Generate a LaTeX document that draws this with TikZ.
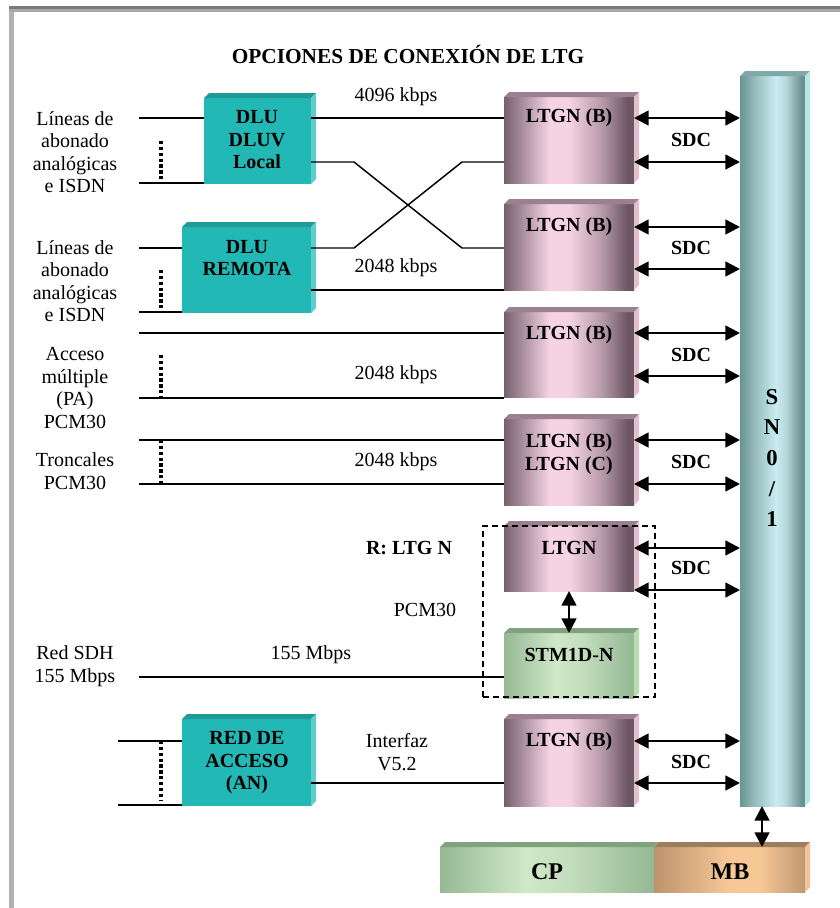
\documentclass[tikz,border=0pt]{standalone}
\usepackage{fontspec}
\setmainfont{Liberation Serif}
\usetikzlibrary{arrows.meta,fit,calc}
\definecolor{tealF}{HTML}{22B8B5}
\definecolor{tealT}{HTML}{1E9B97}
\definecolor{tealS}{HTML}{5FCDCD}
\definecolor{ltgL}{HTML}{76606E}
\definecolor{ltgM}{HTML}{F5D3E3}
\definecolor{ltgR}{HTML}{6C5663}
\definecolor{ltgT}{HTML}{9C8090}
\definecolor{ltgS}{HTML}{E2C0D0}
\definecolor{snL}{HTML}{6C9494}
\definecolor{snM}{HTML}{C8ECF0}
\definecolor{snR}{HTML}{6C9090}
\definecolor{snT}{HTML}{7FA9A9}
\definecolor{snS}{HTML}{B8E6E6}
\definecolor{grL}{HTML}{96B994}
\definecolor{grM}{HTML}{CFE8C8}
\definecolor{grR}{HTML}{94B893}
\definecolor{grT}{HTML}{80A27F}
\definecolor{grS}{HTML}{B8DDB2}
\definecolor{mbL}{HTML}{BD946E}
\definecolor{mbM}{HTML}{F7C796}
\definecolor{mbR}{HTML}{BF9872}
\definecolor{mbT}{HTML}{9E7D5E}
\definecolor{mbS}{HTML}{F2C494}
\definecolor{frT}{HTML}{7A7A7A}
\definecolor{frT2}{HTML}{A8A8A8}
\definecolor{frL}{HTML}{B2B2B2}
\pgfdeclarehorizontalshading{ltgshade}{100bp}{color(0bp)=(ltgL); color(25bp)=(ltgL); color(42.5bp)=(ltgM); color(50bp)=(ltgM); color(62.5bp)=(ltgR!45!ltgM); color(72.5bp)=(ltgR); color(75bp)=(ltgR); color(100bp)=(ltgR)}
\pgfdeclarehorizontalshading{snshade}{100bp}{color(0bp)=(snL); color(25bp)=(snL); color(37.5bp)=(snL!50!snM); color(52.5bp)=(snM); color(60bp)=(snM!80!snR); color(72.5bp)=(snR); color(75bp)=(snR); color(100bp)=(snR)}
\pgfdeclarehorizontalshading{grshade}{100bp}{color(0bp)=(grL); color(25bp)=(grL); color(45bp)=(grM); color(55bp)=(grM!80!grR); color(75bp)=(grR); color(100bp)=(grR)}
\pgfdeclarehorizontalshading{mbshade}{100bp}{color(0bp)=(mbL); color(25bp)=(mbL); color(50bp)=(mbM); color(60bp)=(mbM); color(75bp)=(mbR); color(100bp)=(mbR)}
\newcommand{\depthfaces}[3]{%
  \fill[#2] (#1.north west) -- ++(5,-5) -- ([shift={(5,-5)}]#1.north east) -- (#1.north east) -- cycle;
  \fill[#3] (#1.north east) -- ([shift={(5,-5)}]#1.north east) -- ([shift={(5,-5)}]#1.south east) -- (#1.south east) -- cycle;}
\begin{document}
\begin{tikzpicture}[x=0.75pt,y=-0.75pt,
  lbl/.style={font=\fontsize{15}{16.9}\selectfont, align=center, inner sep=0pt},
  blbl/.style={font=\fontsize{15}{16.9}\selectfont\bfseries, align=center, inner sep=0pt},
  wire/.style={line width=1.1pt},
  dotv/.style={line width=2.4pt, dash pattern=on 2.4pt off 2pt},
  dbl/.style={line width=2pt, {Triangle[length=11pt,width=11pt]}-{Triangle[length=11pt,width=11pt]}},
  face/.style={inner sep=0pt, outer sep=0pt, draw=none},
  tealface/.style={face, fill=tealF},
  ltgface/.style={face, shading=ltgshade, shading angle=0},
  snface/.style={face, shading=snshade, shading angle=0},
  grface/.style={face, shading=grshade, shading angle=0},
  mbface/.style={face, shading=mbshade, shading angle=0},
  grpbox/.style={inner sep=0pt, outer sep=0pt, draw, line width=1.1pt, dash pattern=on 4.5pt off 3pt}
]
\useasboundingbox (0,0) rectangle (840,908);
% frame
\fill[frL] (9,6) rectangle (14,908);
\fill[frT] (9,6) rectangle (840,9);
\fill[frT2] (9,9) rectangle (840,12);

\node[font=\fontsize{16}{19}\selectfont\bfseries, inner sep=0pt] (title) at (408,54) {OPCIONES DE CONEXIÓN DE LTG};

% boxes
\node[fit={(204,98) (311,184)}, tealface] (dlu1) {};
\depthfaces{dlu1}{tealT}{tealS}
\node[fit={(182,227) (311,313)}, tealface] (dlu2) {};
\depthfaces{dlu2}{tealT}{tealS}
\node[fit={(182,719) (311,806)}, tealface] (an) {};
\depthfaces{an}{tealT}{tealS}

\node[fit={(504,97) (634,183)}, ltgface] (ltg1) {};
\depthfaces{ltg1}{ltgT}{ltgS}
\node[fit={(504,204) (634,290)}, ltgface] (ltg2) {};
\depthfaces{ltg2}{ltgT}{ltgS}
\node[fit={(504,312) (634,397)}, ltgface] (ltg3) {};
\depthfaces{ltg3}{ltgT}{ltgS}
\node[fit={(504,419) (634,505)}, ltgface] (ltg4) {};
\depthfaces{ltg4}{ltgT}{ltgS}
\node[fit={(504,526) (634,591)}, ltgface] (ltg5) {};
\depthfaces{ltg5}{ltgT}{ltgS}
\node[fit={(504,633) (634,698)}, grface] (stm) {};
\depthfaces{stm}{grT}{grS}
\node[fit={(504,719) (634,806)}, ltgface] (ltg6) {};
\depthfaces{ltg6}{ltgT}{ltgS}

\node[fit={(740,76) (805,806)}, snface] (sn) {};
\depthfaces{sn}{snT}{snS}

\node[fit={(440,847) (654,892)}, grface] (cp) {};
\depthfaces{cp}{grT}{grS}
\node[fit={(654,847) (805,892)}, mbface] (mb) {};
\depthfaces{mb}{mbT}{mbS}

% left labels
\node[lbl] (t1) at (75,152) {Líneas de\\abonado\\analógicas\\e ISDN};
\node[lbl] (t2) at (75,281) {Líneas de\\abonado\\analógicas\\e ISDN};
\node[lbl] (t3) at (75,388) {Acceso\\múltiple\\(PA)\\PCM30};
\node[lbl] (t4) at (75,471) {Troncales\\PCM30};
\node[lbl] (t5) at (75,666) {Red SDH\\155 Mbps};

% free ends
\coordinate (w1a) at (139,118);
\coordinate (w1b) at (139,183);
\coordinate (w2a) at (139,248);
\coordinate (w2b) at (139,312);
\coordinate (w3a) at (139,333);
\coordinate (w3b) at (139,398);
\coordinate (w4a) at (139,440);
\coordinate (w4b) at (139,484);
\coordinate (w5) at (139,677);
\coordinate (w6a) at (118,741);
\coordinate (w6b) at (118,805);

\draw[wire] (w1a) -- (dlu1.west |- w1a);
\draw[wire] (w1b) -- (dlu1.west |- w1b);
\draw[wire] (w2a) -- (dlu2.west |- w2a);
\draw[wire] (w2b) -- (dlu2.west |- w2b);
\draw[wire] (w3a) -- (ltg3.west |- w3a);
\draw[wire] (w3b) -- (ltg3.west |- w3b);
\draw[wire] (w4a) -- (ltg4.west |- w4a);
\draw[wire] (w4b) -- (ltg4.west |- w4b);
\draw[wire] (w5) -- (stm.west |- w5);
\draw[wire] (w6a) -- (an.west |- w6a);
\draw[wire] (w6b) -- (an.west |- w6b);

% dotted
\draw[dotv] (161,141) -- (161,183);
\draw[dotv] (161,270) -- (161,312);
\draw[dotv] (161,355) -- (161,398);
\draw[dotv] (161,440) -- (161,484);
\draw[dotv] (161,741) -- (161,801);

% DLU to LTGN
\coordinate (y118) at (0,118);
\coordinate (y290) at (0,290);
\coordinate (y783) at (0,783);
\coordinate (c1) at (354,162);
\coordinate (c2) at (462,248);
\coordinate (c3) at (354,248);
\coordinate (c4) at (462,162);
\draw[wire] (dlu1.east |- y118) -- (ltg1.west |- y118);
\draw[wire] (dlu1.east |- c1) -- (c1) -- (c2) -- (ltg2.west |- c2);
\draw[wire] (dlu2.east |- c3) -- (c3) -- (c4) -- (ltg1.west |- c4);
\draw[wire] (dlu2.east |- y290) -- (ltg2.west |- y290);
\draw[wire] (an.east |- y783) -- (ltg6.west |- y783);

% SDC arrows
\foreach \n/\ya/\yb/\ys in {ltg1/118/162/140, ltg2/227/269/248, ltg3/333/376/355, ltg4/440/484/462, ltg5/548/590/568, ltg6/741/783/762}{
  \draw[dbl] (\n.east |- 0,\ya) -- (sn.west |- 0,\ya);
  \draw[dbl] (\n.east |- 0,\yb) -- (sn.west |- 0,\yb);
  \node[blbl] at (691,\ys) {SDC};
}
\draw[dbl] (ltg5.south) -- (stm.north);
\coordinate (snb) at ([shift={(22,0)}]sn.south west);
\draw[dbl] (snb) -- (snb |- mb.north);

% box texts
\node[blbl] (tdlu1) at (257,140) {DLU\\DLUV\\Local};
\node[blbl] (tdlu2) at (247,258) {DLU\\REMOTA};
\node[blbl] (tan) at (247,763) {RED DE\\ACCESO\\(AN)};
\node[blbl] (tl1) at (569,118) {LTGN (B)};
\node[blbl] (tl2) at (569,227) {LTGN (B)};
\node[blbl] (tl3) at (569,335) {LTGN (B)};
\node[blbl] (tl4) at (569,454) {LTGN (B)\\LTGN (C)};
\node[blbl] (tl5) at (569,548) {LTGN};
\node[blbl] (tstm) at (569,655) {STM1D-N};
\node[blbl] (tl6) at (569,742) {LTGN (B)};
\node[font=\fontsize{17}{23}\selectfont\bfseries, align=center, inner sep=0pt] (tsn) at (772,458) {S\\N\\0\\/\\1};
\node[font=\fontsize{18}{20}\selectfont\bfseries, inner sep=0pt] (tcp) at (547,872) {CP};
\node[font=\fontsize{18}{20}\selectfont\bfseries, inner sep=0pt] (tmb) at (730,872) {MB};

% link labels
\node[lbl] (k1) at (396,97) {4096 kbps};
\node[lbl] (k2) at (396,268) {2048 kbps};
\node[lbl] (k3) at (396,375) {2048 kbps};
\node[lbl] (k4) at (396,462) {2048 kbps};
\node[lbl] (k5) at (311,655) {155 Mbps};
\node[lbl] (k6) at (397,752) {Interfaz\\V5.2};
\node[blbl] (rl) at (409,548) {R: LTG N};
\node[lbl] (pcm) at (425,610) {PCM30};

% dashed group
\node[fit={(483,526) (655,697)}, grpbox] (grp) {};
\end{tikzpicture}
\end{document}
